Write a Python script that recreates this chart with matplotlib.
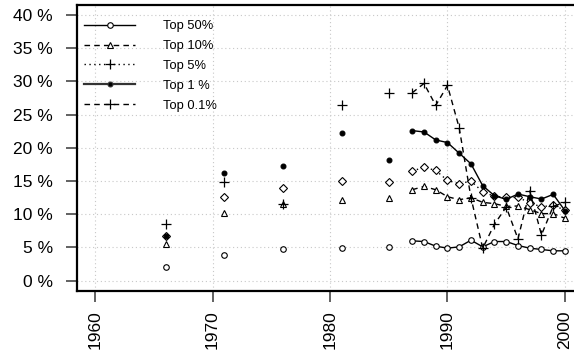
import numpy as np
import matplotlib
matplotlib.use("Agg")
import matplotlib.pyplot as plt
from matplotlib.lines import Line2D

plt.rcParams['font.family'] = ['Liberation Sans', 'DejaVu Sans']

years = [1966, 1971, 1976, 1981, 1985, 1987, 1988, 1989, 1990, 1991, 1992,
         1993, 1994, 1995, 1996, 1997, 1998, 1999, 2000]
top50 = [2.0, 3.8, 4.7, 4.9, 5.1, 6.0, 5.9, 5.2, 4.9, 5.1, 6.1,
         5.1, 5.9, 5.9, 5.3, 4.9, 4.7, 4.5, 4.5]
top10 = [5.5, 10.2, 11.6, 12.2, 12.4, 13.7, 14.2, 13.7, 12.65, 12.2, 12.5,
         11.8, 11.6, 11.2, 11.25, 10.7, 10.1, 10.1, 9.4]
top5 = [6.7, 12.6, 13.9, 15.0, 14.9, 16.5, 17.1, 16.6, 15.1, 14.6, 15.0,
        13.4, 12.7, 12.55, 12.55, 11.75, 11.1, 11.4, 10.6]
top1 = [6.7, 16.2, 17.3, 22.2, 18.2, 22.6, 22.4, 21.2, 20.8, 19.2, 17.6,
        14.3, 12.8, 12.25, 13.05, 12.65, 12.3, 13.0, 10.55]
top01 = [8.5, 14.9, 11.6, 26.5, 28.2, 28.3, 29.7, 26.4, 29.4, 23.0, 12.5,
         4.9, 8.5, 11.1, 6.3, 13.5, 6.9, 11.2, 11.8]
labels = ["Top 50%", "Top 10%", "Top 5%", "Top 1 %", "Top 0.1%"]
xticks = [1960, 1970, 1980, 1990, 2000]
yticks = [0, 5, 10, 15, 20, 25, 30, 35, 40]

fig = plt.figure(figsize=(5.74, 3.58), dpi=100)
ax = fig.add_axes([76.7/574, 1-290.7/358, (576-76.7)/574, (290.7-5)/358])

yrs = np.array(years)
annual = yrs >= 1987

styles = [
    (top50, dict(marker='o', mfc='white', ms=4, mew=0.8), '-'),
    (top10, dict(marker='^', mfc='white', ms=5, mew=0.8), (0, (4, 3))),
    (top5, dict(marker='D', mfc='white', ms=4.0, mew=0.8), (0, (1, 2.5))),
    (top1, dict(marker='o', mfc='black', ms=3.5, mew=0.8), '-'),
    (top01, dict(marker='+', ms=7.5, mew=0.9), (0, (4, 3))),
]
for vals, mk, ls in styles:
    v = np.array(vals)
    ax.plot(yrs[~annual], v[~annual], linestyle='none', color='black', **mk)
    ax.plot(yrs[annual], v[annual], linestyle=ls, lw=1.0, color='black', **mk)

ax.set_xlim(1958.44, 2000.94)
ax.set_ylim(-1.506, 41.52)
ax.set_xticks(xticks)
ax.set_xticklabels([str(t) for t in xticks], rotation=90)
ax.set_yticks(yticks)
ax.set_yticklabels([f"{t} %" for t in yticks])
ax.grid(True, color='#c8c8c8', linestyle=(0, (1, 2.5)), lw=0.8)
ax.set_axisbelow(True)
for s in ax.spines.values():
    s.set_linewidth(1.6)
ax.tick_params(axis='both', length=8, width=1.3, color='#555555',
               labelsize=12.5)
ax.tick_params(axis='y', pad=9)
ax.tick_params(axis='x', pad=6)

handles = [
    Line2D([], [], color='black', lw=1.0, ls='-', marker='o', mfc='white', ms=4, mew=0.8),
    Line2D([], [], color='black', lw=1.0, ls=(0, (4, 3)), marker='^', mfc='white', ms=5, mew=0.8),
    Line2D([], [], color='black', lw=1.0, ls=(0, (1, 2.5)), marker='+', ms=7.5, mew=0.9),
    Line2D([], [], color='#333333', lw=1.6, ls='-', marker='o', mfc='black', ms=3.5, mew=0.8),
    Line2D([], [], color='black', lw=1.0, ls=(0, (4, 3)), marker='+', ms=7.5, mew=0.9),
]
ax.legend(handles, labels, loc='upper left', bbox_to_anchor=(-0.004, 0.978),
          frameon=False, fontsize=9.3, handlelength=4.0, handletextpad=2.15,
          labelspacing=0.6, borderaxespad=0.3)

fig.savefig("out.png", dpi=100)
